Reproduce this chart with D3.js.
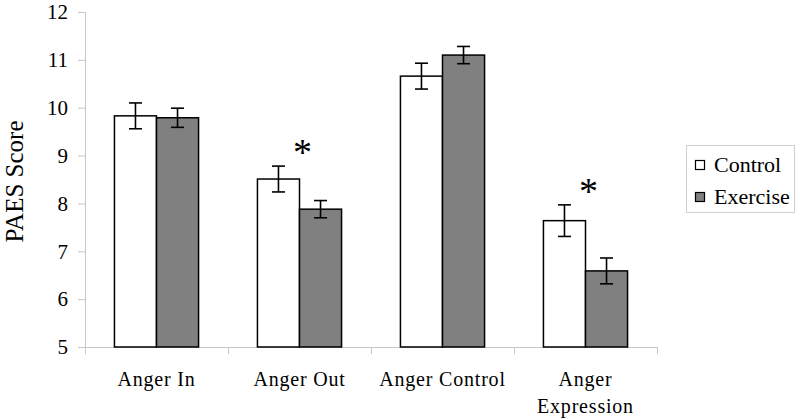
<!DOCTYPE html>
<html>
<head>
<meta charset="utf-8">
<script src="https://cdn.jsdelivr.net/npm/d3@7"></script>
<style>
  html, body { margin: 0; padding: 0; background: #fff; }
  svg { display: block; }
  svg text { font-family: "Liberation Serif", "Times New Roman", Tinos, serif !important; }
</style>
</head>
<body>
<svg id="chart" width="800" height="419" font-family="Liberation Serif"></svg>
<script>
// ---- data ----
const categories = ["Anger In", "Anger Out", "Anger Control", "Anger Expression"];
const seriesNames = ["Control", "Exercise"];
const controlValues = [9.83, 8.51, 10.66, 7.64];
const exerciseValues = [9.79, 7.88, 11.10, 6.59];
const controlErrors = [0.27, 0.27, 0.27, 0.33];
const exerciseErrors = [0.20, 0.18, 0.18, 0.27];
const significant = [false, true, false, true];
const yTicks = [5, 6, 7, 8, 9, 10, 11, 12];
const yLabel = "PAES Score";
const seriesFill = ["#ffffff", "#808080"];

(function () {
const FONT = "Liberation Serif";
const svg = d3.select("#chart");
const pLeft = 85, pRight = 657, pTop = 12, pBottom = 347;

const x0 = d3.scaleBand().domain(categories).range([pLeft, pRight]).paddingInner(0).paddingOuter(0);
const x1 = d3.scaleBand().domain(seriesNames).range([0, x0.bandwidth()]).paddingInner(0).paddingOuter(0.7);
const y = d3.scaleLinear().domain([5, 12]).range([pBottom, pTop]);

const axisColor = "#c8c8c8";

// y axis
const yAxis = d3.axisLeft(y).tickValues(yTicks).tickSize(7).tickPadding(10).tickFormat(d3.format("d"));
const gy = svg.append("g").attr("transform", `translate(${pLeft},0)`).call(yAxis)
  .attr("font-family", FONT).attr("font-size", 21);
gy.select(".domain").attr("stroke", axisColor).attr("stroke-width", 1);
gy.selectAll(".tick line").attr("stroke", axisColor);
gy.selectAll(".tick text").attr("fill", "#000").attr("font-family", FONT);

// x axis line with category boundary ticks
const boundaries = categories.map(c => x0(c)).concat([x0(categories[categories.length - 1]) + x0.bandwidth()]);
svg.append("line").attr("x1", pLeft).attr("x2", pRight + 1).attr("y1", pBottom + 0.5).attr("y2", pBottom + 0.5)
  .attr("stroke", axisColor).attr("stroke-width", 1);
svg.selectAll(".xtick").data(boundaries).join("line")
  .attr("x1", d => Math.round(d) + 0.5).attr("x2", d => Math.round(d) + 0.5)
  .attr("y1", pBottom).attr("y2", pBottom + 7)
  .attr("stroke", axisColor);

// category labels
const labelG = svg.append("g").attr("font-family", FONT);
categories.forEach((c) => {
  const cx = x0(c) + x0.bandwidth() / 2;
  const words = c === "Anger Expression" ? ["Anger", "Expression"] : [c];
  words.forEach((w, j) => {
    labelG.append("text").attr("x", cx).attr("y", 386 + j * 27)
      .attr("text-anchor", "middle").attr("font-size", 20).attr("font-family", FONT)
      .attr("letter-spacing", 0.8).attr("fill", "#000").text(w);
  });
});

// y label
svg.append("text").attr("transform", `translate(23,${(pTop + pBottom) / 2 + 2}) rotate(-90)`)
  .attr("text-anchor", "middle").attr("font-size", 25).attr("font-family", FONT)
  .attr("fill", "#000").text(yLabel);

// bars
const rows = categories.map((c, i) => ({
  cat: c,
  vals: [
    { s: seriesNames[0], v: controlValues[i], e: controlErrors[i], fill: seriesFill[0] },
    { s: seriesNames[1], v: exerciseValues[i], e: exerciseErrors[i], fill: seriesFill[1] }
  ]
}));

const groups = svg.selectAll(".grp").data(rows).join("g")
  .attr("transform", d => `translate(${x0(d.cat)},0)`);

groups.selectAll("rect").data(d => d.vals).join("rect")
  .attr("x", d => x1(d.s))
  .attr("y", d => y(d.v))
  .attr("width", x1.bandwidth())
  .attr("height", d => y(5) - y(d.v))
  .attr("fill", d => d.fill)
  .attr("stroke", "#000").attr("stroke-width", 1.5);

// error bars
const capW = 13;
groups.selectAll(".err").data(d => d.vals).join("g").each(function(d) {
  const g = d3.select(this);
  const cx = x1(d.s) + x1.bandwidth() / 2;
  g.append("line").attr("x1", cx).attr("x2", cx).attr("y1", y(d.v + d.e)).attr("y2", y(d.v - d.e))
    .attr("stroke", "#000").attr("stroke-width", 1.6);
  [d.v + d.e, d.v - d.e].forEach(v => {
    g.append("line").attr("x1", cx - capW / 2).attr("x2", cx + capW / 2).attr("y1", y(v)).attr("y2", y(v))
      .attr("stroke", "#000").attr("stroke-width", 1.6);
  });
});

// significance asterisks
rows.forEach((r, i) => {
  if (!significant[i]) return;
  const topY = d3.min(r.vals, d => y(d.v + d.e));
  svg.append("text").attr("x", x0(r.cat) + x0.bandwidth() / 2 + 3).attr("y", topY - 1)
    .attr("text-anchor", "middle").attr("font-size", 38).attr("font-family", FONT)
    .attr("fill", "#000").text("*");
});

// legend
const lg = svg.append("g");
lg.append("rect").attr("x", 686.5).attr("y", 145.5).attr("width", 108).attr("height", 67)
  .attr("fill", "#fff").attr("stroke", "#d0d0d0");
seriesNames.forEach((s, i) => {
  const yy = 164 + i * 32;
  lg.append("rect").attr("x", 695.5).attr("y", yy - 3.5).attr("width", 9).attr("height", 9)
    .attr("fill", seriesFill[i]).attr("stroke", "#000").attr("stroke-width", 1.2);
  lg.append("text").attr("x", 714).attr("y", yy + 8).attr("font-size", 22).attr("font-family", FONT)
    .attr("fill", "#000").text(s);
});
})();
</script>
</body>
</html>
